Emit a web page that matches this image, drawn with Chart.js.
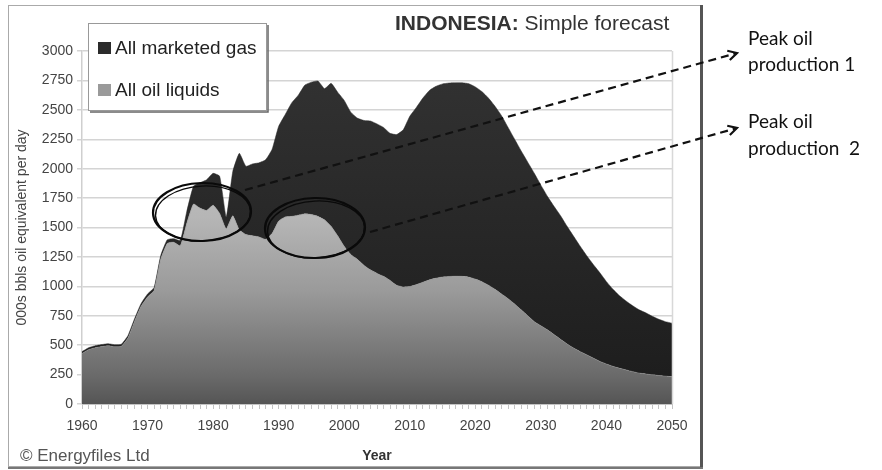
<!DOCTYPE html>
<html><head><meta charset="utf-8">
<script src="https://cdn.jsdelivr.net/npm/chart.js@4.4.0/dist/chart.umd.min.js"></script>
<style>html,body{margin:0;padding:0;background:#fff;}#wrap{position:relative;width:882px;height:470px;}</style>
</head><body><div id="wrap"><canvas id="c" width="882" height="470"></canvas></div>
<script>
const years = [1960,1961,1962,1963,1964,1965,1966,1967,1968,1969,
1970,1971,1972,1973,1974,1975,1976,1977,1978,1979,
1980,1981,1982,1983,1984,1985,1986,1987,1988,1989,
1990,1991,1992,1993,1994,1995,1996,1997,1998,1999,
2000,2001,2002,2003,2004,2005,2006,2007,2008,2009,
2010,2011,2012,2013,2014,2015,2016,2017,2018,2019,
2020,2021,2022,2023,2024,2025,2026,2027,2028,2029,
2030,2031,2032,2033,2034,2035,2036,2037,2038,2039,
2040,2041,2042,2043,2044,2045,2046,2047,2048,2049,2050];
const oilLiquids = [430,462,478,488,495,486,490,560,700,830,
910,965,1230,1365,1375,1345,1540,1700,1665,1645,
1690,1620,1490,1600,1480,1440,1430,1420,1400,1450,
1555,1590,1595,1605,1617,1610,1595,1565,1510,1430,
1340,1270,1230,1180,1140,1110,1085,1050,1010,995,
998,1015,1035,1055,1070,1080,1084,1086,1085,1078,
1062,1040,1010,975,935,895,850,800,750,700,
665,630,590,550,510,475,445,418,390,362,
340,320,303,290,275,263,255,248,242,237,232];
const marketedGas = [15,16,17,17,17,18,18,20,22,22,
25,25,30,30,30,45,100,150,215,260,
270,315,100,375,650,580,610,630,675,715,
805,870,965,1020,1093,1125,1150,1115,1215,1220,
1240,1210,1200,1230,1265,1270,1265,1250,1280,1335,
1447,1505,1565,1610,1630,1640,1644,1644,1645,1644,
1633,1615,1590,1555,1515,1455,1400,1350,1305,1260,
1195,1135,1090,1050,1000,950,895,842,795,753,
700,655,617,585,560,537,520,497,478,463,455];
const yTicks = [0,250,500,750,1000,1250,1500,1750,2000,2250,2500,2750,3000];
const xTickLabels = [1960,1970,1980,1990,2000,2010,2020,2030,2040,2050];
const seriesLabels = ['All oil liquids','All marketed gas'];

const oilPts = years.map((y,i)=>({x:y,y:oilLiquids[i]}));
const totalPts = years.map((y,i)=>({x:y,y:oilLiquids[i]+marketedGas[i]}));

function oilGrad(ctx){
  const ch = ctx.chart; const a = ch.chartArea;
  if(!a) return '#999';
  const g = ch.ctx.createLinearGradient(0,a.top,0,a.bottom);
  g.addColorStop(0,'#cdcdcd');
  g.addColorStop(0.47,'#b6b6b6');
  g.addColorStop(0.68,'#9a9a9a');
  g.addColorStop(0.92,'#6a6a6a');
  g.addColorStop(1,'#555555');
  return g;
}
function gasGrad(ctx){
  const ch = ctx.chart; const a = ch.chartArea;
  if(!a) return '#2b2b2b';
  const g = ch.ctx.createLinearGradient(0,a.top,0,a.bottom);
  g.addColorStop(0,'#333333');
  g.addColorStop(1,'#1c1c1c');
  return g;
}

function arrow(ctx,x1,y1,x2,y2){
  ctx.save();
  ctx.strokeStyle='#111'; ctx.lineWidth=2.2;
  ctx.setLineDash([8,5]);
  ctx.beginPath(); ctx.moveTo(x1,y1); ctx.lineTo(x2,y2); ctx.stroke();
  ctx.setLineDash([]);
  const ang = Math.atan2(y2-y1,x2-x1);
  const L=10;
  ctx.beginPath();
  ctx.moveTo(x2-L*Math.cos(ang-0.5), y2-L*Math.sin(ang-0.5));
  ctx.lineTo(x2,y2);
  ctx.lineTo(x2-L*Math.cos(ang+0.5), y2-L*Math.sin(ang+0.5));
  ctx.stroke();
  ctx.restore();
}
function ring(ctx,cx,cy,rx,ry){
  ctx.save(); ctx.strokeStyle='#0a0a0a';
  ctx.lineWidth=2.2; ctx.beginPath(); ctx.ellipse(cx,cy,rx,ry,-0.02,0,Math.PI*2); ctx.stroke();
  ctx.lineWidth=1.3; ctx.beginPath(); ctx.ellipse(cx+1,cy+1.5,rx-1.5,ry-1.5,-0.05,0,Math.PI*2); ctx.stroke();
  ctx.restore();
}

const decor = {
  id:'decor',
  beforeDraw(chart){
    const ctx=chart.ctx;
    ctx.save();
    ctx.fillStyle='#fff'; ctx.fillRect(0,0,882,470);
    ctx.strokeStyle='#aaa'; ctx.lineWidth=1;
    ctx.strokeRect(8.5,5.5,692,461);
    ctx.strokeStyle='#555'; ctx.lineWidth=3;
    ctx.beginPath(); ctx.moveTo(701.5,5); ctx.lineTo(701.5,469); ctx.stroke();
    ctx.strokeStyle='#777'; ctx.lineWidth=2;
    ctx.beginPath(); ctx.moveTo(8,468); ctx.lineTo(703,468); ctx.stroke();
    ctx.restore();
  },
  afterDraw(chart){
    const ctx=chart.ctx; const a=chart.chartArea;
    ctx.save();
    ctx.strokeStyle='#d8d8d8'; ctx.lineWidth=1.5;
    ctx.beginPath(); ctx.moveTo(a.right+0.5,a.top); ctx.lineTo(a.right+0.5,a.bottom); ctx.stroke();
    ctx.fillStyle='#333'; ctx.textBaseline='alphabetic'; ctx.textAlign='left';
    ctx.font='bold 21px "Liberation Sans", Arial, sans-serif';
    const t1='INDONESIA:'; ctx.fillText(t1,395,30);
    const w1=ctx.measureText(t1).width;
    ctx.font='21px "Liberation Sans", Arial, sans-serif';
    ctx.fillText(' Simple forecast',395+w1,30);
    ctx.fillStyle='#555'; ctx.font='17px "Liberation Sans", Arial, sans-serif';
    ctx.fillText('\u00A9 Energyfiles Ltd',20,461);
    ctx.fillStyle='#fff'; ctx.fillRect(88,23,179,88);
    ctx.strokeStyle='#999'; ctx.lineWidth=1; ctx.strokeRect(88.5,23.5,178,87);
    ctx.strokeStyle='#666'; ctx.lineWidth=1.5;
    ctx.beginPath(); ctx.moveTo(90,112); ctx.lineTo(268,112); ctx.lineTo(268,25); ctx.stroke();
    const ds=chart.data.datasets;
    const items=[{label:ds[1].label,col:'#2b2b2b',y:54},{label:ds[0].label,col:'#9a9a9a',y:96}];
    ctx.font='19px "Liberation Sans", Arial, sans-serif';
    items.forEach(it=>{
      ctx.fillStyle=it.col; ctx.fillRect(98,it.y-12,13,12);
      ctx.fillStyle='#222'; ctx.fillText(it.label,115,it.y);
    });
    ring(ctx,202,212,49,29);
    ring(ctx,315,228,50,30);
    arrow(ctx,245,190,737,53);
    arrow(ctx,370,232,737,128);
    ctx.fillStyle='#111'; ctx.font='19px Lato, "Open Sans", sans-serif';
    ctx.fillText('Peak oil',748,45);
    ctx.fillText('production 1',748,71);
    ctx.fillText('Peak oil',748,128);
    ctx.fillText('production  2',748,155);
    ctx.restore();
  }
};

const tickFont={family:'"Liberation Sans", Arial, sans-serif',size:14};
new Chart(document.getElementById('c'),{
  type:'line',
  data:{datasets:[
    {label:seriesLabels[0],data:oilPts,fill:'origin',backgroundColor:oilGrad,borderColor:'#8a8a8a',borderWidth:0.5,pointRadius:0,tension:0.15},
    {label:seriesLabels[1],data:totalPts,fill:'-1',backgroundColor:gasGrad,borderColor:'#2a2a2a',borderWidth:0.5,pointRadius:0,tension:0.15}
  ]},
  options:{
    responsive:false,animation:false,devicePixelRatio:1,
    layout:{padding:{left:0,top:51,right:210,bottom:0}},
    plugins:{legend:{display:false},tooltip:{enabled:false}},
    scales:{
      x:{type:'linear',min:1960,max:2050,
        afterFit(s){s.height=66;},
        afterBuildTicks(s){s.ticks=years.map(v=>({value:v}));},
        ticks:{autoSkip:false,maxRotation:0,padding:9,color:'#444',font:tickFont,
          callback(v){return xTickLabels.includes(v)?String(v):'';}},
        grid:{drawOnChartArea:false,tickLength:5,color:'#c4c4c4',lineWidth:1},
        border:{color:'#c4c4c4'},
        title:{display:true,text:'Year',color:'#333',font:{family:'"Liberation Sans", Arial, sans-serif',size:14,weight:'bold'},padding:{top:0,bottom:5}}
      },
      y:{min:0,max:3000,
        afterFit(s){s.width=82;},
        afterBuildTicks(s){s.ticks=yTicks.map(v=>({value:v}));},
        ticks:{padding:4,color:'#444',font:tickFont,callback(v){return String(v);}},
        grid:{color:'#d4d4d4',lineWidth:1.5,tickLength:5},
        border:{color:'#cfcfcf',width:1.5},
        title:{display:true,text:'000s bbls oil equivalent per day',color:'#444',font:{family:'"Liberation Sans", Arial, sans-serif',size:14},padding:{top:14,bottom:0}}
      }
    }
  },
  plugins:[decor]
});
</script></body></html>
